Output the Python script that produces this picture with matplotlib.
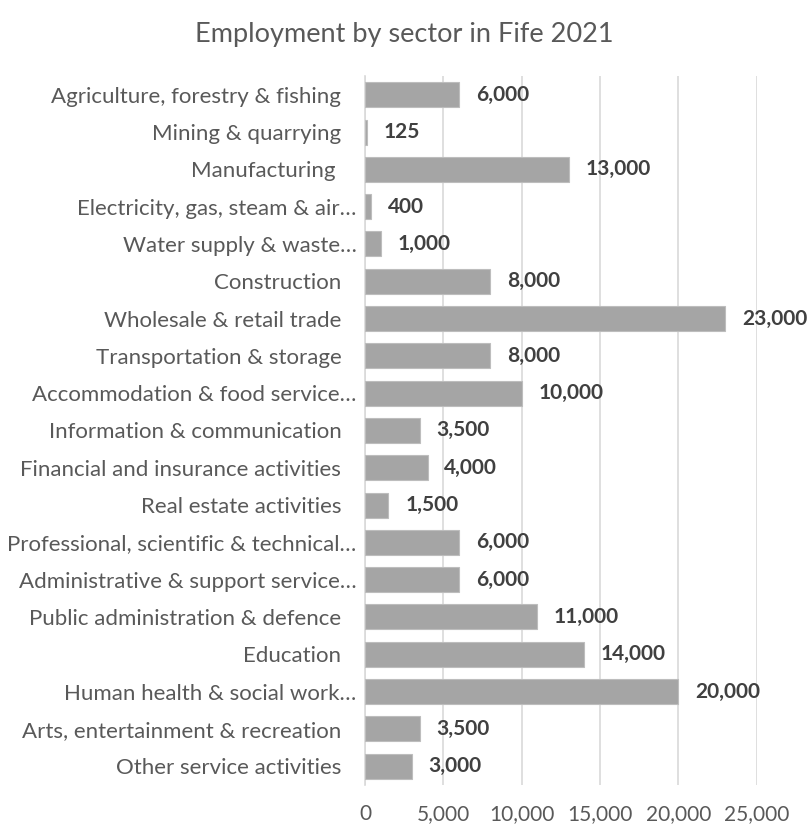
# -*- coding: utf-8 -*-
import numpy as np
import matplotlib
matplotlib.use('Agg')
import matplotlib.pyplot as plt
import matplotlib.ticker as ticker
import matplotlib.transforms as mtransforms

# sectors, top to bottom as listed
sectors = [
    'Agriculture, forestry & fishing',
    'Mining & quarrying',
    'Manufacturing ',
    'Electricity, gas, steam & air\u2026',
    'Water supply & waste\u2026',
    'Construction',
    'Wholesale & retail trade',
    'Transportation & storage',
    'Accommodation & food service\u2026',
    'Information & communication',
    'Financial and insurance activities',
    'Real estate activities',
    'Professional, scientific & technical\u2026',
    'Administrative & support service\u2026',
    'Public administration & defence',
    'Education',
    'Human health & social work\u2026',
    'Arts, entertainment & recreation',
    'Other service activities',
]
employees = [6000, 125, 13000, 400, 1000, 8000, 23000, 8000, 10000, 3500,
             4000, 1500, 6000, 6000, 11000, 14000, 20000, 3500, 3000]
xticks = [0, 5000, 10000, 15000, 20000, 25000]

plt.rcParams['font.family'] = ['Lato', 'DejaVu Sans']

fig = plt.figure(figsize=(8.11, 8.27), dpi=100)
ax = fig.add_axes([0.450, 0.051, 0.483, 0.857])

ypos = np.arange(len(sectors))
ax.barh(ypos, employees, height=0.67, color='#A5A5A5',
        edgecolor='#BDBDBD', linewidth=0.8, zorder=3)
ax.set_ylim(len(sectors) - 0.5, -0.5)
ax.set_xlim(0, 25000)

# value labels at the end of each bar
for y, v in zip(ypos, employees):
    ax.annotate('{:,}'.format(v), xy=(v, y), xytext=(12, 0),
                textcoords='offset points', va='center', ha='left',
                fontsize=15, fontweight='bold', color='#404040',
                zorder=4, annotation_clip=False)

ax.set_yticks(ypos)
ax.set_yticklabels(sectors, fontsize=16, color='#595959')
ax.set_xticks(xticks)
ax.xaxis.set_major_formatter(ticker.FuncFormatter(lambda v, p: '{:,}'.format(int(v))))
for tick in ax.get_xticklabels():
    tick.set_fontsize(15)
    tick.set_color('#595959')
ax.tick_params(axis='y', length=0, pad=17)
ax.tick_params(axis='x', length=0, pad=14)

# truncated names sit a little further right
shift = mtransforms.ScaledTranslation(11 / 72, 0, fig.dpi_scale_trans)
for lbl in ax.get_yticklabels():
    if lbl.get_text().endswith('\u2026'):
        lbl.set_transform(lbl.get_transform() + shift)

ax.grid(True, axis='x', color='#D9D9D9', linewidth=1.2, zorder=0)
for side in ['top', 'right', 'bottom']:
    ax.spines[side].set_visible(False)
ax.spines['left'].set_color('#D9D9D9')
ax.spines['left'].set_linewidth(1.2)

fig.text(0.498, 0.958, 'Employment by sector in Fife 2021', ha='center',
         va='center', fontsize=19.5, color='#595959')

plt.savefig('out.png', dpi=100)
plt.close(fig)
